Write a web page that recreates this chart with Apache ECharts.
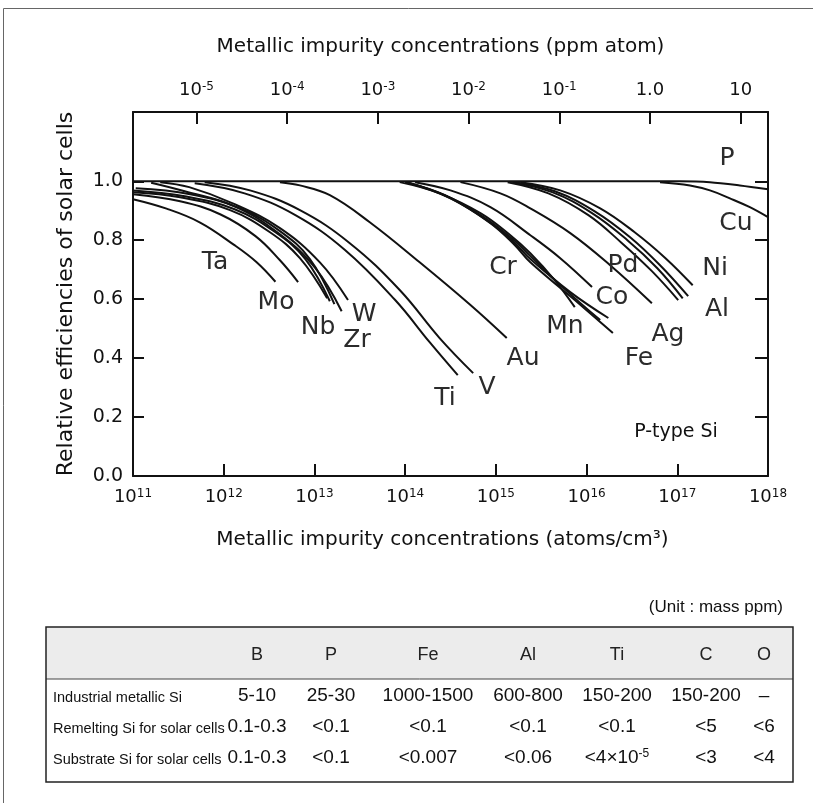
<!DOCTYPE html>
<html><head><meta charset="utf-8">
<script src="https://cdn.jsdelivr.net/npm/echarts@6/dist/echarts.min.js"></script>
<style>html,body{margin:0;padding:0;background:#fff;}#c{width:824px;height:803px;}</style>
</head><body><div id="c"></div>
<script>
// ---------------- data ----------------
// x = log10(impurity concentration, atoms/cm3), y = relative efficiency
const bottomExponents = [11, 12, 13, 14, 15, 16, 17, 18];
const topPpmValues = [1e-5, 1e-4, 1e-3, 1e-2, 1e-1, 1, 10];
const topPpmLabels = ['10^-5', '10^-4', '10^-3', '10^-2', '10^-1', '1.0', '10'];
const siAtomsPerCm3 = 5e22;
const yTickValues = [0, 0.2, 0.4, 0.6, 0.8, 1.0];

const Ta  = [[11.00,0.939],[11.37,0.907],[11.74,0.860],[12.11,0.785],[12.36,0.726],[12.57,0.659]];
const Mo  = [[11.00,0.956],[11.52,0.932],[11.96,0.888],[12.35,0.814],[12.62,0.732],[12.82,0.658]];
const Nb1 = [[11.00,0.963],[11.52,0.946],[12.07,0.902],[12.51,0.827],[12.84,0.739],[13.14,0.603]];
const Nb2 = [[11.00,0.969],[11.57,0.949],[12.12,0.905],[12.57,0.827],[12.90,0.736],[13.17,0.593]];
const Nb3 = [[11.03,0.976],[11.63,0.956],[12.18,0.908],[12.62,0.831],[12.95,0.736],[13.22,0.583]];
const W   = [[11.30,0.997],[11.62,0.980],[12.10,0.925],[12.62,0.841],[13.06,0.725],[13.37,0.597]];
const Zr  = [[11.20,0.995],[11.57,0.966],[12.12,0.915],[12.62,0.820],[13.01,0.705],[13.30,0.559]];
const Ti  = [[11.68,0.993],[12.23,0.959],[12.79,0.885],[13.34,0.766],[13.89,0.597],[14.27,0.454],[14.58,0.342]];
const V   = [[11.79,0.997],[12.29,0.969],[12.84,0.902],[13.39,0.790],[13.94,0.631],[14.38,0.468],[14.75,0.349]];
const Au  = [[12.62,0.997],[12.84,0.986],[13.17,0.953],[13.61,0.861],[14.16,0.725],[14.72,0.580],[15.12,0.468]];
const Cr  = [[13.94,0.997],[14.38,0.959],[14.83,0.892],[15.16,0.817],[15.38,0.756],[15.65,0.664],[15.87,0.573]];
const Mn  = [[14.00,0.997],[14.44,0.953],[14.88,0.875],[15.21,0.797],[15.38,0.746],[15.76,0.634],[16.15,0.529]];
const Mn2 = [[14.02,0.997],[14.46,0.949],[14.90,0.868],[15.21,0.790],[15.38,0.736],[15.82,0.624],[16.24,0.536]];
const Fe  = [[14.05,0.993],[14.50,0.942],[14.94,0.858],[15.21,0.783],[15.38,0.725],[15.87,0.597],[16.29,0.485]];
const Co  = [[14.11,0.997],[14.50,0.969],[14.94,0.912],[15.38,0.817],[15.71,0.739],[16.06,0.641]];
const Pd  = [[14.61,0.997],[15.05,0.959],[15.38,0.908],[15.82,0.824],[16.26,0.715],[16.72,0.586]];
const Ni  = [[15.27,0.997],[15.71,0.969],[16.15,0.908],[16.53,0.827],[16.87,0.739],[17.17,0.647]];
const Al  = [[15.21,0.997],[15.65,0.966],[16.09,0.898],[16.48,0.810],[16.81,0.715],[17.12,0.610]];
const Ag  = [[15.18,0.997],[15.62,0.963],[16.06,0.892],[16.45,0.800],[16.78,0.705],[17.06,0.603]];
const Ag2 = [[15.13,0.997],[15.58,0.959],[16.02,0.885],[16.39,0.790],[16.72,0.695],[17.01,0.597]];
const Cu  = [[16.81,0.997],[17.14,0.986],[17.36,0.969],[17.58,0.942],[17.80,0.912],[18.00,0.878]];
const P   = [[11.00,1.000],[17.03,1.000],[17.36,0.997],[17.69,0.986],[18.00,0.973]];
const curves = [Ta, Mo, Nb1, Nb2, Nb3, W, Zr, Ti, V, Au, Cr, Mn, Mn2, Fe, Co, Pd, Ni, Al, Ag, Ag2, Cu];

const curveLabels = ['Ta','Mo','Nb','W','Zr','Ti','V','Au','Cr','Mn','Co','Pd','Fe','Ag','Ni','Al','Cu','P'];

// table
const tableHeaders = ['B', 'P', 'Fe', 'Al', 'Ti', 'C', 'O'];
const rowNames = ['Industrial metallic Si', 'Remelting Si for solar cells', 'Substrate Si for solar cells'];
const rowIndustrial = ['5-10', '25-30', '1000-1500', '600-800', '150-200', '150-200', '\u2013'];
const rowRemelting  = ['0.1-0.3', '<0.1', '<0.1', '<0.1', '<0.1', '<5', '<6'];
const rowSubstrate  = ['0.1-0.3', '<0.1', '<0.007', '<0.06', '<4\u00d710^-5', '<3', '<4'];

// ---------------- layout / style ----------------
const FONT = 'DejaVu Sans';
const TFONT = 'Liberation Sans';
const INK = '#111';
const LABEL_INK = '#2b2b2b';
const G = {left: 133, right: 768, top: 112, bottom: 476};

const topTickPos = topPpmValues.map(v => Math.log10(v * 1e-6 * siAtomsPerCm3));

function supRich(base, sup) {
  return '{b|' + base + '}{s|' + sup + '}';
}
const axisRich = {
  b: {fontFamily: FONT, fontSize: 18, color: INK, lineHeight: 24, verticalAlign: 'top'},
  s: {fontFamily: FONT, fontSize: 12, color: INK, lineHeight: 12, verticalAlign: 'top'}
};

const series = curves.map(c => ({
  type: 'line', data: c, showSymbol: false, smooth: 0.4, silent: true,
  lineStyle: {color: INK, width: 2}, xAxisIndex: 0, yAxisIndex: 0, z: 3
}));
series.push({type: 'line', data: P, showSymbol: false, smooth: 0.3, silent: true,
  lineStyle: {color: INK, width: 2}, z: 4});

// label anchor positions (pixels)
const labelPos = {
  Ta: [215, 262], Mo: [276, 302], Nb: [318, 327], W: [364, 314], Zr: [357, 340],
  Ti: [445, 398], V: [487, 387], Au: [523, 358], Cr: [503, 267], Mn: [565, 326],
  Co: [612, 297], Pd: [623, 265], Fe: [639, 358], Ag: [668, 334], Ni: [715, 268],
  Al: [717, 309], Cu: [736, 223], P: [727, 158]
};

const graphics = [];
// frame
graphics.push({type: 'line', shape: {x1: 3.5, y1: 8.5, x2: 813, y2: 8.5}, style: {stroke: '#666', lineWidth: 1}});
graphics.push({type: 'line', shape: {x1: 3.5, y1: 8.5, x2: 3.5, y2: 803}, style: {stroke: '#666', lineWidth: 1}});

curveLabels.forEach(n => {
  const p = labelPos[n];
  graphics.push({type: 'text', x: p[0], y: p[1], z: 10,
    style: {text: n, fontFamily: FONT, fontSize: 25, fill: LABEL_INK, align: 'center', verticalAlign: 'middle'}});
});
graphics.push({type: 'text', x: 676, y: 432, z: 10,
  style: {text: 'P-type Si', fontFamily: FONT, fontSize: 19, fill: INK, align: 'center', verticalAlign: 'middle'}});

// table
const T = {left: 46, right: 793, top: 627, headBottom: 679, bottom: 782};
const colX = [257, 331, 428, 528, 617, 706, 764];
const rowY = [698, 729, 760];
graphics.push({type: 'rect', shape: {x: T.left, y: T.top, width: T.right - T.left, height: T.headBottom - T.top},
  style: {fill: '#ececec'}, z: 1});
graphics.push({type: 'line', shape: {x1: T.left, y1: T.headBottom, x2: T.right, y2: T.headBottom},
  style: {stroke: '#444', lineWidth: 1}, z: 2});
graphics.push({type: 'rect', shape: {x: T.left, y: T.top, width: T.right - T.left, height: T.bottom - T.top},
  style: {fill: 'none', stroke: '#222', lineWidth: 1.5}, z: 3});
graphics.push({type: 'text', x: 783, y: 607, z: 5,
  style: {text: '(Unit : mass ppm)', fontFamily: TFONT, fontSize: 17, fill: INK, align: 'right', verticalAlign: 'middle'}});
tableHeaders.forEach((h, i) => {
  graphics.push({type: 'text', x: colX[i], y: 655, z: 5,
    style: {text: h, fontFamily: TFONT, fontSize: 18, fill: '#222', align: 'center', verticalAlign: 'middle'}});
});
const rows = [rowIndustrial, rowRemelting, rowSubstrate];
const tRich = {
  v: {fontFamily: TFONT, fontSize: 19, fill: '#111', lineHeight: 24, verticalAlign: 'top'},
  s: {fontFamily: TFONT, fontSize: 12, fill: '#111', lineHeight: 12, verticalAlign: 'top'}
};
rows.forEach((r, ri) => {
  graphics.push({type: 'text', x: 53, y: rowY[ri], z: 5,
    style: {text: rowNames[ri], fontFamily: TFONT, fontSize: 14.5, fill: '#111', align: 'left', verticalAlign: 'middle'}});
  r.forEach((v, ci) => {
    let txt;
    if (v.indexOf('^') >= 0) {
      const parts = v.split('^');
      txt = '{v|' + parts[0] + '}{s|' + parts[1] + '}';
    } else {
      txt = '{v|' + v + '}';
    }
    graphics.push({type: 'text', x: colX[ci], y: rowY[ri], z: 5,
      style: {text: txt, rich: tRich, align: 'center', verticalAlign: 'middle'}});
  });
});

const axisLine = {show: true, onZero: false, lineStyle: {color: INK, width: 2}};
const option = {
  backgroundColor: '#fff',
  animation: false,
  grid: {left: G.left, right: 824 - G.right, top: G.top, bottom: 803 - G.bottom, containLabel: false},
  xAxis: [
    {type: 'value', position: 'bottom', min: 11, max: 18, interval: 1,
     axisLine: axisLine,
     axisTick: {show: true, inside: true, length: 12, lineStyle: {color: INK, width: 2}},
     splitLine: {show: false},
     axisLabel: {margin: 12, formatter: v => supRich('10', v), rich: axisRich, showMinLabel: true, showMaxLabel: true},
     name: 'Metallic impurity concentrations (atoms/cm\u00b3)', nameLocation: 'middle', nameGap: 54,
     nameTextStyle: {fontFamily: FONT, fontSize: 20, color: INK, padding: [0, 16, 0, 0]}},
    {type: 'value', position: 'top', min: 11, max: 18,
     axisLine: axisLine,
     axisTick: {show: true, inside: true, length: 12, customValues: topTickPos, lineStyle: {color: INK, width: 2}},
     splitLine: {show: false},
     axisLabel: {margin: 7, customValues: topTickPos, rich: axisRich,
       formatter: v => {
         let best = 0, d = 1e9;
         topTickPos.forEach((p, i) => { if (Math.abs(p - v) < d) { d = Math.abs(p - v); best = i; } });
         const l = topPpmLabels[best];
         if (l.indexOf('^') >= 0) { const s = l.split('^'); return supRich(s[0], s[1]); }
         return '{b|' + l + '}';
       }},
     name: 'Metallic impurity concentrations (ppm atom)', nameLocation: 'middle', nameGap: 55,
     nameTextStyle: {fontFamily: FONT, fontSize: 20, color: INK, padding: [0, 20, 0, 0]}}
  ],
  yAxis: [
    {type: 'value', position: 'left', min: 0, max: 1.235,
     axisLine: axisLine,
     axisTick: {show: true, inside: true, length: 11, customValues: yTickValues, lineStyle: {color: INK, width: 2}},
     splitLine: {show: false},
     axisLabel: {customValues: yTickValues, margin: 10, formatter: v => v.toFixed(1),
       fontFamily: FONT, fontSize: 19, color: INK},
     name: 'Relative efficiencies of solar cells', nameLocation: 'middle', nameGap: 56,
     nameTextStyle: {fontFamily: FONT, fontSize: 22, color: INK}},
    {type: 'value', position: 'right', min: 0, max: 1.235,
     axisLine: axisLine,
     axisTick: {show: true, inside: true, length: 13, customValues: yTickValues, lineStyle: {color: INK, width: 2}},
     splitLine: {show: false},
     axisLabel: {show: false}}
  ],
  series: series,
  graphic: graphics
};
const chart = echarts.init(document.getElementById('c'), null, {renderer: 'canvas'});
chart.setOption(option);
</script></body></html>
